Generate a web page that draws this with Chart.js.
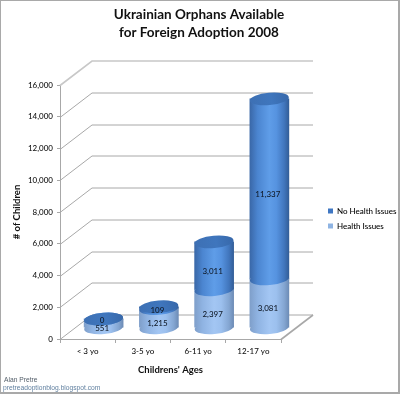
<!DOCTYPE html>
<html>
<head>
<meta charset="utf-8">
<style>html,body{margin:0;padding:0;background:#fff}#w{position:relative;width:400px;height:394px}canvas{display:block}</style>
<script src="https://cdn.jsdelivr.net/npm/chart.js@4"></script>
</head>
<body>
<div id="w"><canvas id="c" width="400" height="394"></canvas></div>
<script>
const categories = ['< 3 yo', '3-5 yo', '6-11 yo', '12-17 yo'];
const healthIssues = [551, 1215, 2397, 3081];
const noHealthIssues = [0, 109, 3011, 11337];
const seriesNames = ['Health Issues', 'No Health Issues'];
const chartTitle = ['Ukrainian Orphans Available', 'for Foreign Adoption 2008'];
const footerLines = ['Alan Pretre', 'pretreadoptionblog.blogspot.com'];

const FONT = 'Lato, "Open Sans", sans-serif';
const DX = 32, DY = -24.5;          // depth of the box
const BW = 39, RY = 6.2, TILT = -5 * Math.PI / 180;
const GRID = '#a8a8a8';
const ramps = {
  light: ['#7f9fca', '#8fb3e2', '#a3c6f3', '#9cc0ee', '#84a6d2', '#6d8cb6'],
  dark:  ['#3a68a8', '#4b85d0', '#5f9de8', '#5693e0', '#4176bd', '#335e98']
};
function grad(ctx, x, stops, hw) {
  const g = ctx.createLinearGradient(x - hw, 0, x + hw, 0);
  const pos = [0, .2, .5, .68, .88, 1];
  stops.forEach((c, i) => g.addColorStop(pos[i], c));
  return g;
}
function barFill(name, solid) {
  return c => {
    if (c.dataIndex === undefined) return solid;
    return grad(c.chart.ctx, c.chart.scales.x.getPixelForValue(c.dataIndex), ramps[name], BW / 2);
  };
}
function ell(ctx, x, y, fill) {
  ctx.beginPath();
  ctx.ellipse(x, y, BW / 2, RY, TILT, 0, Math.PI * 2);
  ctx.fillStyle = fill;
  ctx.fill();
}
const cube = {
  id: 'cube',
  beforeDraw(chart) {
    const { ctx } = chart;
    ctx.save();
    ctx.strokeStyle = '#a9a9a9';
    ctx.lineWidth = 2;
    ctx.strokeRect(0, 0, 399, 393);
    ctx.restore();
  },
  beforeDatasetsDraw(chart) {
    const { ctx, chartArea: a, scales: { y } } = chart;
    ctx.save();
    ctx.strokeStyle = GRID;
    ctx.lineWidth = 1;
    y.ticks.forEach(t => {
      const py = Math.round(y.getPixelForValue(t.value)) + .5;
      ctx.lineWidth = t.value === 16000 ? 1.6 : 1;
      ctx.strokeStyle = t.value === 16000 ? '#c8c8c8' : GRID;
      ctx.beginPath();
      ctx.moveTo(a.left, py);
      ctx.lineTo(a.left + DX, py + DY);
      ctx.lineTo(a.right + DX, py + DY);
      ctx.stroke();
    });
    const by = y.getPixelForValue(0) + .5;
    ctx.beginPath();
    ctx.moveTo(a.right, by);
    ctx.lineTo(a.right + DX, by + DY);
    ctx.strokeStyle = GRID;
    ctx.stroke();
    ctx.restore();
    ctx.save();
    ctx.translate(DX / 2, DY / 2 + 1);
  },
  afterDatasetsDraw(chart) {
    const { ctx, scales: { x, y } } = chart;
    categories.forEach((_, i) => {
      const px = x.getPixelForValue(i);
      const y0 = y.getPixelForValue(0);
      const y1 = y.getPixelForValue(healthIssues[i]);
      const y2 = y.getPixelForValue(healthIssues[i] + noHealthIssues[i]);
      ell(ctx, px, y0, grad(ctx, px, ramps.light, BW / 2));
      ell(ctx, px, y1, grad(ctx, px, ramps.dark, BW / 2));
      const cap = ctx.createLinearGradient(px - BW / 2, y2 + 3, px + BW / 2, y2 - 3);
      cap.addColorStop(0, '#3d70b4');
      cap.addColorStop(.55, '#3f76bd');
      cap.addColorStop(1, '#3768aa');
      ell(ctx, px, y2, cap);
      ctx.fillStyle = '#101a28';
      ctx.font = '500 8px ' + FONT;
      ctx.textAlign = 'center';
      ctx.textBaseline = 'middle';
      const lbl = (v, base) => {
        const top = y.getPixelForValue(base + v), bot = y.getPixelForValue(base);
        const h = bot - top;
        ctx.fillText(v.toLocaleString('en-US'), px - 1.5, (top + bot) / 2 + Math.min(5.5, 1 + h));
      };
      lbl(healthIssues[i], 0);
      lbl(noHealthIssues[i], healthIssues[i]);
    });
    ctx.restore();
    ctx.save();
    ctx.textAlign = 'left';
    ctx.textBaseline = 'middle';
    ctx.font = '6.7px "Liberation Sans", sans-serif';
    ctx.fillStyle = '#55606b';
    ctx.fillText(footerLines[0], 4, 380);
    ctx.fillStyle = '#5f7f9f';
    ctx.fillText(footerLines[1], 3, 388.5);
    ctx.restore();
  },
  afterLayout(chart) {
    const l = chart.legend;
    l.left = 321; l.right = 398; l.top = 200; l.bottom = 270;
    const t = chart.titleBlock;
    t.left = 0; t.right = 398;
  }
};
new Chart(document.getElementById('c'), {
  type: 'bar',
  plugins: [cube],
  data: {
    labels: categories,
    datasets: [
      { label: seriesNames[0], data: healthIssues, backgroundColor: barFill('light', '#8fb4e3'), borderWidth: 0, barThickness: BW, clip: false },
      { label: seriesNames[1], data: noHealthIssues, backgroundColor: barFill('dark', '#3f77c3'), borderWidth: 0, barThickness: BW, clip: false }
    ]
  },
  options: {
    responsive: false,
    animation: false,
    layout: { padding: { left: 0, right: 119, top: 0, bottom: 0 } },
    plugins: {
      title: {
        display: true,
        text: chartTitle,
        color: '#111',
        font: { family: FONT, size: 13.5, weight: 'bold', lineHeight: 1.32 },
        padding: { top: 6, bottom: 43.4 }
      },
      legend: {
        position: 'chartArea',
        align: 'start',
        reverse: true,
        labels: {
          boxWidth: 5, boxHeight: 5, padding: 7,
          color: '#1c2a3a',
          font: { family: FONT, size: 8, weight: '500' },
          generateLabels: c => c.data.datasets.map((d, i) => ({
            text: d.label,
            fillStyle: i === 0 ? '#8fb4e3' : '#3f77c3',
            strokeStyle: 'transparent', lineWidth: 0, datasetIndex: i
          }))
        }
      },
      tooltip: { enabled: false }
    },
    scales: {
      x: {
        stacked: true,
        afterFit: s => { s.height = 55; },
        grid: { drawOnChartArea: false, color: GRID, tickLength: 4 },
        border: { color: GRID },
        ticks: { color: '#111', font: { family: FONT, size: 8, weight: '500' }, padding: 4, maxRotation: 0 },
        title: { display: true, text: "Childrens' Ages", color: '#111', font: { family: FONT, size: 9.5, weight: 'bold' }, padding: { top: 4, bottom: 18 } }
      },
      y: {
        stacked: true,
        min: 0, max: 16000,
        afterFit: s => { s.width = 60; },
        grid: { drawOnChartArea: false, color: GRID, tickLength: 3 },
        border: { color: GRID },
        ticks: { stepSize: 2000, color: '#111', font: { family: FONT, size: 8, weight: '500' }, padding: 4,
          callback: v => v.toLocaleString('en-US') },
        title: { display: true, text: '# of Children', color: '#111', font: { family: FONT, size: 9.5, weight: 'bold' }, padding: { top: 11, bottom: 4 } }
      }
    }
  }
});
</script>
</body>
</html>
